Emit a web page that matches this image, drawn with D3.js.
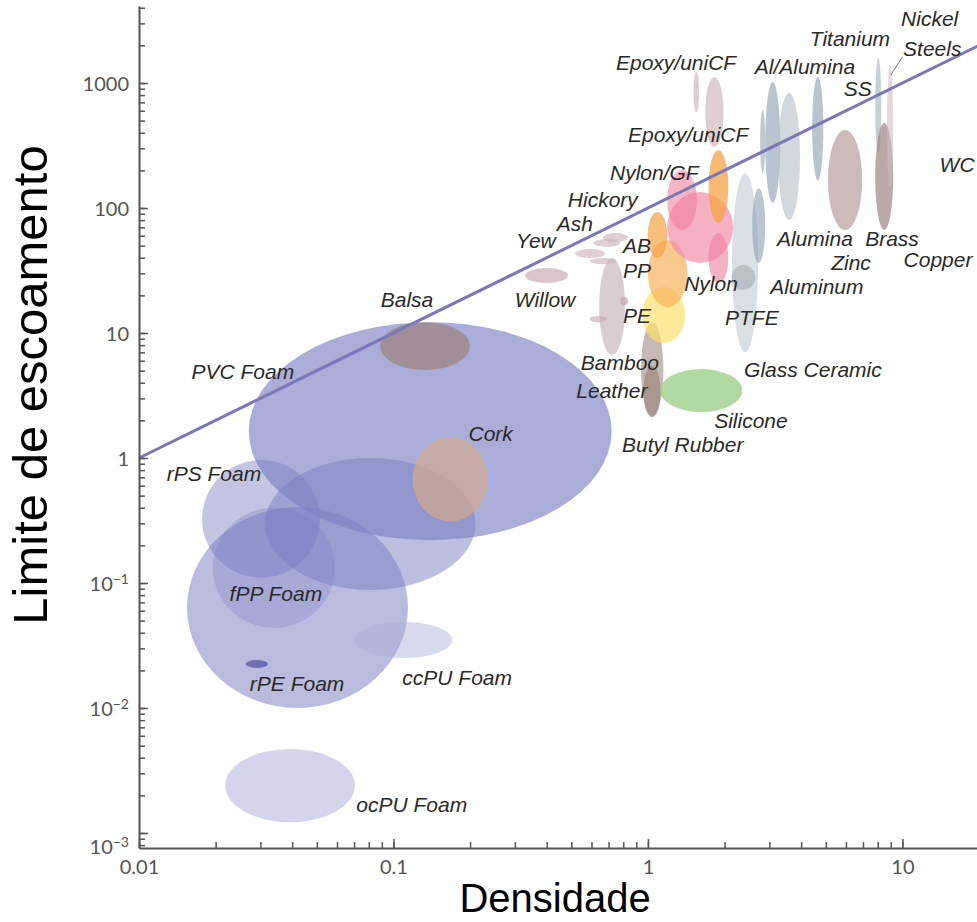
<!DOCTYPE html>
<html>
<head>
<meta charset="utf-8">
<script src="https://cdn.jsdelivr.net/npm/d3@7"></script>
<style>
    body { margin: 0; background: #fff; }
    .tick text { font-family: Lato, "DejaVu Sans", sans-serif; font-size: 20px; fill: #555; }
    .lbl { font-family: "Liberation Sans", Arial, sans-serif; font-style: italic; font-size: 21px; fill: #2a2a2a; }
    .title { font-family: "Liberation Sans", Arial, sans-serif; fill: #000; }
</style>
</head>
<body>
<div id="chart"></div>
<script>
// axis ticks
const xTickValues = [0.01, 0.1, 1, 10];
const xTickLabels = ["0.01", "0.1", "1", "10"];
const yTickValues = [1000, 100, 10, 1, 0.1, 0.01, 0.001];
const yTickLabels = [["1000"], ["100"], ["10"], ["1"], ["10", "−1"], ["10", "−2"], ["10", "−3"]];

// material ranges: name, density min/max, strength min/max
const materials = [
    ["PVC Foam", 0.027, 0.72, 0.22, 12.2],
    ["rPS Foam", 0.0177, 0.0514, 0.11, 0.964],
    ["PS Foam", 0.0313, 0.21, 0.088, 1.0],
    ["PE Foam", 0.01545, 0.114, 0.01, 0.405],
    ["fPP Foam", 0.0195, 0.0589, 0.0437, 0.4],
    ["rPE Foam", 0.0263, 0.0321, 0.0209, 0.0242],
    ["ccPU Foam", 0.0706, 0.17, 0.0251, 0.0488],
    ["ocPU Foam", 0.0218, 0.0706, 0.00122, 0.0047],
    ["Balsa", 0.0885, 0.2, 5.06, 12.2],
    ["Cork", 0.119, 0.235, 0.31, 1.47],
    ["Willow", 0.329, 0.485, 25.1, 33.1],
    ["Yew", 0.518, 0.679, 39.8, 47],
    ["Ash", 0.61, 0.778, 48.8, 56.5],
    ["Hickory", 0.666, 0.836, 53.5, 63],
    ["Oak", 0.59, 0.75, 35.5, 39.8],
    ["Bamboo", 0.643, 0.813, 6.67, 39.8],
    ["Wood a", 0.778, 0.836, 16.7, 19.4],
    ["Wood b", 0.59, 0.69, 12.2, 13.7],
    ["Leather", 0.94, 1.15, 2.13, 12.2],
    ["Butyl Rubber", 0.96, 1.12, 2.13, 5.5],
    ["Silicone", 1.117, 2.35, 2.33, 5.15],
    ["PE", 0.949, 1.4, 8.3, 23.3],
    ["PP", 1.0, 1.43, 16.1, 55.5],
    ["AB", 0.998, 1.19, 39.8, 93],
    ["Nylon/GF", 1.19, 2.16, 36.3, 134],
    ["Nylon/GF b", 1.19, 1.56, 66.7, 201],
    ["Nylon", 1.73, 2.07, 25.1, 63],
    ["Epoxy/uniCF", 1.73, 2.07, 75.9, 291],
    ["Epoxy/uniCF a", 1.51, 1.59, 586, 1225],
    ["Epoxy/uniCF b", 1.68, 1.98, 308, 1117],
    ["PTFE", 2.14, 2.71, 7.05, 190],
    ["Alumina", 2.57, 2.89, 36.3, 144],
    ["Glass Ceramic", 2.13, 2.64, 22.1, 35],
    ["Aluminum", 2.76, 2.89, 190, 608],
    ["Al/Alumina", 2.89, 3.31, 110, 1018],
    ["Al/Alumina b", 3.25, 3.96, 80, 832],
    ["Al/Alumina c", 4.42, 4.89, 167, 1117],
    ["Brass", 5.1, 6.95, 66.7, 421],
    ["Titanium", 7.82, 8.26, 275, 1585],
    ["Steels", 7.82, 9.2, 66.7, 479],
    ["Nickel", 8.7, 9.2, 147, 1393]
];

const fills = {
    "PVC Foam": ["#7a7fc2", 0.64], "rPS Foam": ["#7a7fc2", 0.45], "PS Foam": ["#7a7fc2", 0.5],
    "PE Foam": ["#7a7fc2", 0.52], "fPP Foam": ["#7a7fc2", 0.3], "rPE Foam": ["#5f62ad", 0.85],
    "ccPU Foam": ["#a9acd9", 0.45], "ocPU Foam": ["#a9acd9", 0.5],
    "Balsa": ["#9c8684", 0.75], "Cork": ["#cfa890", 0.72],
    "Willow": ["#c9adb5", 0.7], "Yew": ["#c9adb5", 0.6], "Ash": ["#c9adb5", 0.6], "Hickory": ["#c9adb5", 0.6],
    "Oak": ["#c9adb5", 0.6], "Bamboo": ["#c9b8bf", 0.7], "Wood a": ["#c9a5b0", 0.7], "Wood b": ["#c9a5b0", 0.6],
    "Leather": ["#b0a29e", 0.75], "Butyl Rubber": ["#8d7468", 0.5],
    "Silicone": ["#9fd08a", 0.8], "PE": ["#fde16e", 0.7], "PP": ["#f7b45c", 0.7], "AB": ["#f4a347", 0.7],
    "Nylon/GF": ["#f28fab", 0.7], "Nylon/GF b": ["#ef7a9a", 0.55], "Nylon": ["#ef7fa0", 0.6],
    "Epoxy/uniCF": ["#f5a44a", 0.75], "Epoxy/uniCF a": ["#d0b8bd", 0.7], "Epoxy/uniCF b": ["#d0b8bd", 0.7],
    "PTFE": ["#cfd8df", 0.8], "Alumina": ["#8fa0b0", 0.6], "Glass Ceramic": ["#a8acb0", 0.6],
    "Aluminum": ["#95a5b5", 0.6], "Al/Alumina": ["#95a5b5", 0.65], "Al/Alumina b": ["#b3bec8", 0.6],
    "Al/Alumina c": ["#95a5b5", 0.65], "Brass": ["#bca3a3", 0.75], "Titanium": ["#aab7bd", 0.65],
    "Steels": ["#9d8585", 0.7], "Nickel": ["#cfc2c2", 0.6]
};

// label anchors in data units: text, density, strength
const labels = [
    ["Nickel", 12.8, 3310], ["Steels", 13.1, 1905], ["Titanium", 6.22, 2290],
    ["Epoxy/uniCF", 1.29, 1472], ["Al/Alumina", 4.14, 1343], ["SS", 6.68, 912],
    ["WC", 16.4, 221], ["Epoxy/uniCF", 1.44, 384], ["Nylon/GF", 1.06, 194],
    ["Hickory", 0.665, 116], ["Ash", 0.516, 74.5], ["Yew", 0.363, 54.5],
    ["AB", 0.906, 49.7], ["PP", 0.906, 31.9], ["Alumina", 4.53, 57.1],
    ["Brass", 9.1, 57.5], ["Zinc", 6.28, 36.6], ["Copper", 13.8, 38.4],
    ["Nylon", 1.77, 25.1], ["Aluminum", 4.61, 23.6], ["Willow", 0.394, 18.4],
    ["Balsa", 0.113, 18.7], ["PE", 0.906, 13.7], ["PTFE", 2.56, 13.2],
    ["PVC Foam", 0.0256, 4.88], ["Bamboo", 0.776, 5.86], ["Leather", 0.722, 3.44],
    ["Glass Ceramic", 4.45, 5.06], ["Silicone", 2.54, 1.98], ["Cork", 0.241, 1.58],
    ["Butyl Rubber", 1.37, 1.29], ["rPS Foam", 0.0197, 0.745], ["fPP Foam", 0.0345, 0.0817],
    ["rPE Foam", 0.0418, 0.0158], ["ccPU Foam", 0.178, 0.0177], ["ocPU Foam", 0.118, 0.00168]
];

// guide line strength = 100 * density
const guideDensity = [0.01, 20];
const guideRatio = 100;
const nickelLeader = [[10.0, 1614], [9.0, 1159]];

const width = 977, height = 922;
const margin = {top: 6, right: 0, bottom: 74, left: 139};

const svg = d3.select("#chart").append("svg")
    .attr("width", width).attr("height", height);

const x = d3.scaleLog().domain([0.01, 20]).range([margin.left, 979]);
const y = d3.scaleLog().domain([Math.pow(10, -3.12), Math.pow(10, 3.616)]).range([height - margin.bottom, margin.top]);

const plot = svg.append("g");

plot.selectAll("ellipse").data(materials).enter().append("ellipse")
    .attr("cx", d => (x(d[1]) + x(d[2])) / 2)
    .attr("cy", d => (y(d[3]) + y(d[4])) / 2)
    .attr("rx", d => Math.abs(x(d[2]) - x(d[1])) / 2)
    .attr("ry", d => Math.abs(y(d[3]) - y(d[4])) / 2)
    .attr("fill", d => fills[d[0]][0])
    .attr("fill-opacity", d => fills[d[0]][1]);

let line = d3.line().x(d => x(d)).y(d => y(d * guideRatio));
plot.append("path").datum(guideDensity)
    .attr("d", line)
    .attr("fill", "none")
    .attr("stroke", "#7b78b8")
    .attr("stroke-width", 3);

plot.append("path").datum(nickelLeader)
    .attr("d", d3.line().x(d => x(d[0])).y(d => y(d[1])))
    .attr("stroke", "#777").attr("stroke-width", 1).attr("fill", "none");

plot.selectAll(".lbl").data(labels).enter().append("text")
    .attr("class", "lbl")
    .attr("x", d => x(d[1]))
    .attr("y", d => y(d[2]))
    .attr("text-anchor", "middle")
    .attr("dominant-baseline", "central")
    .text(d => d[0]);

// axes
const x0 = y.range()[0];
svg.append("g").attr("transform", "translate(0," + x0 + ")")
    .call(d3.axisBottom(x).tickValues(x.ticks()).tickSizeInner(-6).tickSizeOuter(0).tickFormat(""))
    .call(g => g.select(".domain").remove())
    .selectAll("line").attr("stroke", "#555").attr("stroke-width", 1.5);

const xAxis = svg.append("g").attr("transform", "translate(0," + x0 + ")")
    .call(d3.axisBottom(x).tickValues(xTickValues).tickSizeInner(-9).tickSizeOuter(0)
        .tickFormat((d, i) => xTickLabels[i]));
xAxis.select(".domain").attr("stroke", "#555").attr("stroke-width", 2);
xAxis.selectAll(".tick line").attr("stroke", "#555").attr("stroke-width", 1.5);
xAxis.selectAll(".tick text").attr("y", 12).attr("dy", "0.71em");

svg.append("g").attr("transform", "translate(" + margin.left + ",0)")
    .call(d3.axisLeft(y).tickValues(y.ticks()).tickSizeInner(-6).tickSizeOuter(0).tickFormat(""))
    .call(g => g.select(".domain").remove())
    .selectAll("line").attr("stroke", "#555").attr("stroke-width", 1.5);

const yAxis = svg.append("g").attr("transform", "translate(" + margin.left + ",0)")
    .call(d3.axisLeft(y).tickValues(yTickValues).tickSizeInner(-9).tickSizeOuter(0));
yAxis.select(".domain").attr("stroke", "#555").attr("stroke-width", 2);
yAxis.selectAll(".tick line").attr("stroke", "#555").attr("stroke-width", 1.5);
yAxis.selectAll(".tick text").each(function (d, i) {
    let t = d3.select(this).text("").attr("x", -10).attr("dy", "0.36em");
    t.append("tspan").text(yTickLabels[i][0]);
    if (yTickLabels[i].length > 1) {
        t.append("tspan").text(yTickLabels[i][1]).attr("dy", "-0.5em").style("font-size", "14px");
    }
    if (d === 0.001) t.attr("transform", "translate(0,13)");
});

svg.append("text").attr("class", "title")
    .attr("x", (margin.left + width) / 2 - 3).attr("y", 912)
    .attr("text-anchor", "middle")
    .style("font-size", "40px")
    .text("Densidade");

svg.append("text").attr("class", "title")
    .attr("transform", "translate(47,385) rotate(-90)")
    .attr("text-anchor", "middle")
    .style("font-size", "49px")
    .text("Limite de escoamento");
</script>
</body>
</html>
